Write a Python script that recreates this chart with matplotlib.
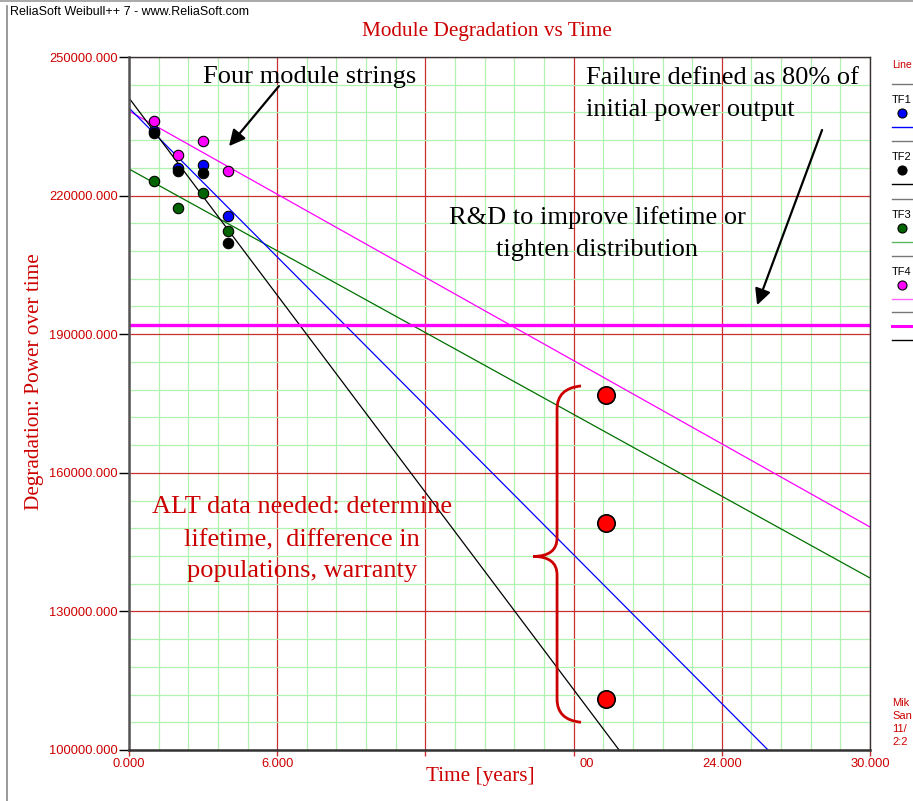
import numpy as np
import matplotlib.pyplot as plt
from matplotlib.lines import Line2D
from matplotlib.path import Path
from matplotlib.patches import PathPatch

SERIF = 'Liberation Serif'
SANS = 'Liberation Sans'
RED = '#cc0000'

# measured degradation of the four module strings
times = [1, 2, 3, 4]
tf1 = [234000, 226000, 226600, 215600]   # blue
tf2 = [233500, 225300, 225000, 209800]   # black
tf3 = [223200, 217400, 220500, 212300]   # green
tf4 = [236100, 228800, 231800, 225300]   # magenta

# fitted lines: value at t=0 and at t=30
line_t = [0, 30]
tf1_fit = [238960, 77830]
tf2_fit = [241130, 27740]
tf3_fit = [225760, 137230]
tf4_fit = [238310, 148270]

failure_level = 192000

# projected lifetimes (big red dots)
alt_t = [19.3, 19.3, 19.3]
alt_v = [176800, 149100, 111000]

xticks = [0, 6, 12, 18, 24, 30]
xtick_labels = ['0.000', '6.000', '', '', '24.000', '30.000']
yticks = [100000, 130000, 160000, 190000, 220000, 250000]

W, H = 913, 801
fig = plt.figure(figsize=(W / 100, H / 100), dpi=100)
ax = fig.add_axes([129 / W, 1 - 750 / H, (870 - 129) / W, (750 - 57) / H])

ax.set_xlim(0, 30)
ax.set_ylim(100000, 250000)
ax.set_xticks(xticks)
ax.set_xticklabels(xtick_labels)
ax.set_yticks(yticks)
ax.set_yticklabels(['%.3f' % v for v in yticks])
ax.set_xticks(np.arange(0, 30.01, 1.2), minor=True)
ax.set_yticks(np.arange(100000, 250001, 6000), minor=True)
ax.grid(which='minor', color='#b0f2b0', lw=0.9, zorder=0)
ax.grid(which='major', color='#c83030', lw=0.9, zorder=0.5)
ax.tick_params(which='minor', length=0)
ax.tick_params(axis='y', which='major', length=7, width=1, color='black', direction='out',
               labelcolor=RED, labelsize=9.3, pad=1)
ax.tick_params(axis='x', which='major', length=4, width=1, color='#c83030', direction='out',
               labelcolor=RED, labelsize=9.3, pad=2)
for lab in ax.get_xticklabels() + ax.get_yticklabels():
    lab.set_fontfamily(SANS)
ax.set_axisbelow(True)

for s in ['top', 'right']:
    ax.spines[s].set_color('#333333')
    ax.spines[s].set_linewidth(1.0)
ax.spines['left'].set_color('#555555')
ax.spines['left'].set_linewidth(1.8)
ax.spines['bottom'].set_color('#333333')
ax.spines['bottom'].set_linewidth(1.8)

# fitted lines
ax.plot(line_t, tf4_fit, color='#ff00ff', lw=0.9, zorder=2)
ax.plot(line_t, tf3_fit, color='#007000', lw=0.9, zorder=2)
ax.plot(line_t, tf1_fit, color='#0000ff', lw=0.9, zorder=2)
ax.plot(line_t, tf2_fit, color='black', lw=0.9, zorder=2)
ax.axhline(failure_level, color='#ff00ff', lw=2.4, zorder=2)

# data points
mk = dict(marker='o', ls='none', ms=7.5, mec='black', mew=0.8, zorder=4)
ax.plot(times, tf1, mfc='#0000ff', **mk)
ax.plot(times, tf2, mfc='black', **mk)
ax.plot(times, tf3, mfc='#006400', **mk)
ax.plot(times, tf4, mfc='#ff00ff', **mk)
ax.plot(alt_t, alt_v, marker='o', ls='none', ms=12.5, mfc='#ff0000', mec='black',
        mew=1.2, zorder=5)

# "00" left over from the hidden 18.000 label
ax.text(18.55, -0.012, '00', transform=ax.get_xaxis_transform(), ha='center', va='top',
        color=RED, fontsize=9.3, family=SANS)

# annotations
txt = dict(family=SERIF, fontsize=19, color='black', zorder=6)
ax.text(7.3, 245700, 'Four module strings', ha='center', va='center', **txt)
ax.text(18.5, 245400, 'Failure defined as 80% of', ha='left', va='center', **txt)
ax.text(18.5, 238500, 'initial power output', ha='left', va='center', **txt)
ax.text(18.95, 215150, 'R&D to improve lifetime or', ha='center', va='center', **txt)
ax.text(18.95, 208200, 'tighten distribution', ha='center', va='center', **txt)
rtxt = dict(txt, color=RED)
ax.text(7.0, 152600, 'ALT data needed: determine', ha='center', va='center', **rtxt)
ax.text(7.0, 145450, 'lifetime,  difference in', ha='center', va='center', **rtxt)
ax.text(7.0, 138750, 'populations, warranty', ha='center', va='center', **rtxt)

arrow = dict(arrowstyle='-|>', color='black', lw=1.6, mutation_scale=24, shrinkA=0, shrinkB=0)
ax.annotate('', xy=(4.05, 230700), xytext=(6.07, 243700), arrowprops=arrow, zorder=6)
ax.annotate('', xy=(25.43, 196300), xytext=(28.06, 234200), arrowprops=arrow, zorder=6)

# curly brace around the projected lifetimes
bx, btop, bbot, bd = 17.33, 178800, 106000, 0.97
bmid = (btop + bbot) / 2 - 500
verts = [(bx + bd, btop), (bx, btop - 500), (bx, btop - 5000),
         (bx, bmid + 4000), (bx, bmid), (bx - bd, bmid),
         (bx, bmid), (bx, bmid - 4000),
         (bx, bbot + 5000), (bx, bbot + 500), (bx + bd, bbot)]
codes = [Path.MOVETO, Path.CURVE3, Path.CURVE3,
         Path.LINETO, Path.CURVE3, Path.CURVE3,
         Path.CURVE3, Path.CURVE3,
         Path.LINETO, Path.CURVE3, Path.CURVE3]
ax.add_patch(PathPatch(Path(verts, codes), fill=False, ec=RED, lw=2.0, zorder=6))

# titles
fig.text(487 / W, 1 - 29 / H, 'Module Degradation vs Time', ha='center', va='center_baseline',
         color=RED, fontsize=15.3, family=SERIF)
fig.text(480 / W, 1 - 777 / H, 'Time [years]', ha='center', va='center',
         color=RED, fontsize=15.3, family=SERIF)
fig.text(35 / W, 1 - 382 / H, 'Degradation: Power over time', ha='center', va='center',
         rotation=90, color=RED, fontsize=15.3, family=SERIF)
fig.text(10 / W, 1 - 12 / H, 'ReliaSoft Weibull++ 7 - www.ReliaSoft.com', ha='left',
         va='center', color='black', fontsize=9, family=SANS)

# window frame
fig.add_artist(Line2D([7 / W, 7 / W], [0, 1 - 6 / H], color='#888888', lw=1.2))
fig.add_artist(Line2D([0, 1], [1 - 1 / H, 1 - 1 / H], color='#999999', lw=1.2))

# legend panel (narrow strip at the right edge)
def fy(py):
    return 1 - py / H

lx0, lx1 = 892 / W, 1.0
fig.text(lx0, fy(65), 'Line', color=RED, fontsize=7.5, family=SANS, va='center')
legend_items = [('TF1', '#0000ff', '#0000ff'), ('TF2', 'black', 'black'),
                ('TF3', '#006400', '#5cb85c'), ('TF4', '#ff00ff', '#ff66ff')]
for i, (name, dot, lc) in enumerate(legend_items):
    y0 = 84 + i * 57.3
    fig.add_artist(Line2D([lx0, lx1], [fy(y0), fy(y0)], color='#777777', lw=1))
    fig.text(lx0, fy(y0 + 16), name, color='black', fontsize=8, family=SANS, va='center')
    fig.add_artist(Line2D([902 / W], [fy(y0 + 29)], marker='o', ms=6.5, mfc=dot, mec='black',
                          mew=0.8, ls='none'))
    fig.add_artist(Line2D([lx0, lx1], [fy(y0 + 43), fy(y0 + 43)], color=lc, lw=1))
fig.add_artist(Line2D([lx0, lx1], [fy(312), fy(312)], color='#777777', lw=1))
fig.add_artist(Line2D([lx0, lx1], [fy(326), fy(326)], color='#ff00ff', lw=2.2))
fig.add_artist(Line2D([lx0, lx1], [fy(340), fy(340)], color='black', lw=1))

# user stamp
for k, s in enumerate(['Mik', 'San', '11/', '2:2']):
    fig.text(lx0, fy(703 + 13 * k), s, color=RED, fontsize=8, family=SANS, va='center')

fig.savefig('out.png', dpi=100)
